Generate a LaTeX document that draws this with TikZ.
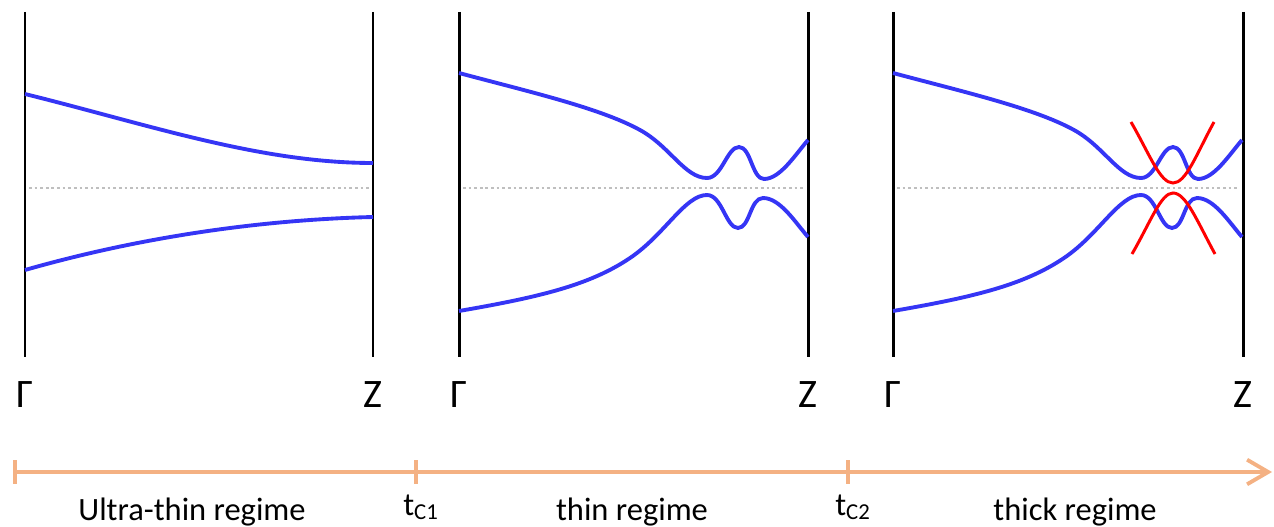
\documentclass[tikz,border=0pt]{standalone}
\usepackage{fontspec}
\setmainfont{Carlito}
\usetikzlibrary{arrows.meta}
\definecolor{bandblue}{HTML}{3535F5}
\definecolor{axisorange}{HTML}{F4B183}
\definecolor{fermigray}{HTML}{BFBFBF}

\begin{document}
\begin{tikzpicture}[x=0.02cm, y=-0.02cm,
        edge/.style = {line width=1.7pt, black},
        band/.style = {line width=2.2pt, bandblue},
        surf/.style = {line width=1.7pt, red},
        fermi/.style = {line width=1.4pt, fermigray, dash pattern=on 1.5pt off 1.7pt},
        kpoint/.style = {font=\fontsize{23}{27}\selectfont, anchor=base},
        regime/.style = {font=\fontsize{18.5}{22}\selectfont, anchor=base},
        axis/.style = {line width=2.2pt, axisorange}
    ]
    \useasboundingbox (0,0) rectangle (1274,527);
    % panel frames, Fermi level, k-point labels
    \foreach \xl/\xr/\n in {25/373/a, 459/808/b, 893/1243/c} {
        \draw[edge] (\xl,12) -- (\xl,357);
        \draw[edge] (\xr,12) -- (\xr,357);
        \draw[fermi] (\xl+4,188) -- (\xr-4,188);
        \node[kpoint] (gamma-\n) at (\xl,407) {Γ};
        \node[kpoint] (z-\n) at (\xr,407) {Z};
    }
    % ultra-thin bands
    \draw[band] (25,94) .. controls (150,125) and (260,163) .. (373,163);
    \draw[band] (25,270) .. controls (130,240) and (250,220) .. (373,217);
    % thin and thick bands
    \foreach \dx in {0,434} {
        \begin{scope}[shift={(\dx,0)}]
            \draw[band] (459,73) .. controls (530,92) and (600,108) .. (640,130)
                .. controls (670,146.5) and (685,178) .. (707,178)
                .. controls (722,178) and (727,147) .. (739,147)
                .. controls (751,147) and (752,179) .. (764,179)
                .. controls (780,179) and (795,155) .. (808,140);
            \draw[band] (459,311) .. controls (540,297) and (590,285) .. (630,258)
                .. controls (665,234.4) and (685,195) .. (707,195)
                .. controls (722,195) and (726,228) .. (738,228)
                .. controls (750,228) and (750,198) .. (763,198)
                .. controls (780,198) and (795,222) .. (808,237);
        \end{scope}
    }
    % surface states
    \draw[surf] (1131,122) .. controls (1150,155) and (1160,183) .. (1173,183)
        .. controls (1186,183) and (1196,155) .. (1214,122);
    \draw[surf] (1132,254) .. controls (1151,221) and (1161,193) .. (1173,193)
        .. controls (1186,193) and (1197,221) .. (1215,254);
    % thickness axis
    \coordinate (t0) at (15,472);
    \coordinate (tc1) at (416,472);
    \coordinate (tc2) at (848,472);
    \coordinate (tend) at (1272,472);
    \draw[axis, -{Straight Barb[length=12pt, width=14pt]}] (t0) -- (tend);
    \foreach \c in {t0, tc1, tc2}
        \draw[axis] (\c) ++(0,-12) -- ++(0,24);
    \node[regime] (ultra) at (192,520) {Ultra-thin regime};
    \node[regime] (tc1-label) at (421,515) {t\textsubscript{C1}};
    \node[regime] (thin) at (632,520) {thin regime};
    \node[regime] (tc2-label) at (853,515) {t\textsubscript{C2}};
    \node[regime] (thick) at (1075,520) {thick regime};
\end{tikzpicture}
\end{document}
